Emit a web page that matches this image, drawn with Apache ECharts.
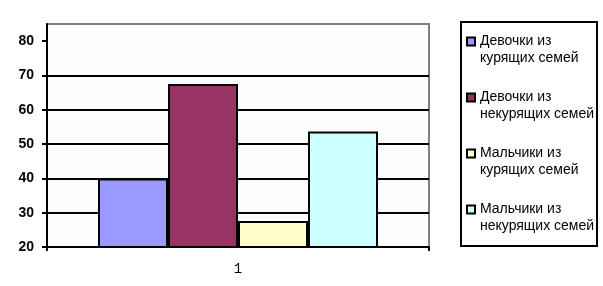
<!DOCTYPE html>
<html>
<head>
<meta charset="utf-8">
<script src="https://cdn.jsdelivr.net/npm/echarts@6/dist/echarts.min.js"></script>
<style>html,body{margin:0;padding:0;background:#fff;}#c{width:603px;height:286px;}</style>
</head>
<body>
<div id="c"></div>
<script>
const categories = ['1'];
const seriesNames = ['Девочки из курящих семей', 'Девочки из некурящих семей', 'Мальчики из курящих семей', 'Мальчики из некурящих семей'];
const girlsSmoking = [40];
const girlsNonSmoking = [67.5];
const boysSmoking = [27.6];
const boysNonSmoking = [53.7];
const yTicks = [20, 30, 40, 50, 60, 70, 80];

const colors = ['#9999ff', '#993366', '#ffffcc', '#ccffff'];
const seriesData = [girlsSmoking, girlsNonSmoking, boysSmoking, boysNonSmoking];

const chart = echarts.init(document.getElementById('c'), null, {renderer: 'canvas'});
chart.setOption({
  animation: false,
  backgroundColor: '#ffffff',
  grid: {left: 47, right: 174, top: 24, bottom: 39, show: true, backgroundColor: '#fdfdfd', borderColor: '#808080', borderWidth: 2},
  xAxis: {
    type: 'category', data: categories,
    axisLine: {lineStyle: {color: '#000', width: 2}},
    axisTick: {show: true, length: 4, lineStyle: {color: '#000', width: 2}},
    axisLabel: {color: '#000', fontFamily: 'Liberation Mono', fontSize: 14, margin: 15}
  },
  yAxis: {
    type: 'value', min: 20, max: 85, interval: 10,
    axisLine: {show: true, lineStyle: {color: '#000', width: 2}},
    axisTick: {show: true, length: 5, lineStyle: {color: '#000', width: 2}, customValues: yTicks},
    axisLabel: {color: '#000', fontFamily: 'Liberation Sans', fontWeight: 'bold', fontSize: 14, margin: 13, customValues: yTicks},
    splitLine: {show: true, showMaxLine: false, lineStyle: {color: '#000', width: 2}}
  },
  legend: {
    orient: 'vertical', left: 466, top: 16, itemGap: 5, padding: 0,
    itemWidth: 8, itemHeight: 8, icon: 'rect',
    data: seriesNames,
    formatter: function (n) { const i = n.indexOf(' ', n.indexOf(' ') + 1); return '{e|}\n{a|' + n.slice(0, i) + '}\n{a|' + n.slice(i + 1) + '}'; },
    textStyle: {color: '#000', fontFamily: 'Liberation Sans', fontSize: 14, lineHeight: 17,
      rich: {a: {fontFamily: 'Liberation Sans', fontSize: 14, lineHeight: 17, color: '#000'}, e: {fontSize: 14, lineHeight: 17}}},
    itemStyle: {borderColor: '#000', borderWidth: 2}
  },
  graphic: [{type: 'rect', shape: {x: 461, y: 22, width: 136, height: 224}, style: {fill: 'none', stroke: '#000', lineWidth: 2}, z: 100}],
  series: seriesNames.map((name, i) => ({
    name: name, type: 'bar', data: seriesData[i], barWidth: 70, barGap: '0%',
    itemStyle: {color: colors[i], borderColor: '#000', borderWidth: 2}
  }))
});
</script>
</body>
</html>
